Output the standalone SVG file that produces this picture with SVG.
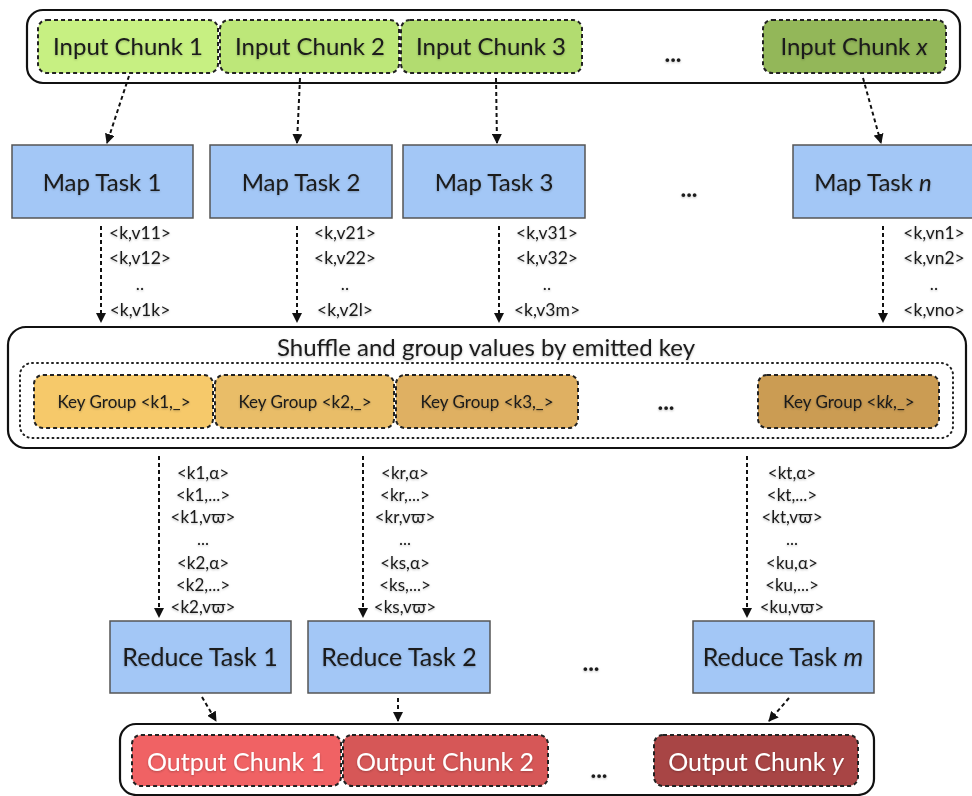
<svg xmlns="http://www.w3.org/2000/svg" width="972" height="796" viewBox="0 0 972 796">
<defs>
<marker id="ah" viewBox="0 0 10 10" refX="9" refY="5" markerWidth="5" markerHeight="5" orient="auto" markerUnits="strokeWidth">
<path d="M0,0 L10,5 L0,10 Z" fill="#111"/>
</marker>
<filter id="sh" x="-10%" y="-30%" width="120%" height="160%">
<feDropShadow dx="0" dy="1" stdDeviation="1" flood-color="#000" flood-opacity="0.25"/>
</filter>
</defs>
<style>
.cont{fill:#fff;stroke:#111;stroke-width:2.2}
.chunk{stroke:#222;stroke-width:2;stroke-dasharray:4 3}
.task{fill:#a3c7f6;stroke:#555;stroke-width:1.5}
.dotted{fill:none;stroke:#222;stroke-width:2;stroke-dasharray:1 4;stroke-linecap:round}
.t{font-family:Lato,"Open Sans","Liberation Sans",sans-serif;fill:#1a1a1a;text-anchor:middle;filter:url(#sh)}
.big{font-size:24px}
.big2{font-size:25px}
.kv{font-size:17.5px}
.kv2{font-size:17px}
.kg{font-size:17px}
.dots{font-size:24px;font-weight:bold}
.w{fill:#fff}
.conn line{stroke:#111;stroke-width:2;stroke-dasharray:4 3;marker-end:url(#ah)}
</style>
<rect width="972" height="796" fill="#fff"/>

<g id="input-container">
<rect class="cont" x="27" y="10" width="933" height="73" rx="16"/>
</g>
<g id="input1"><rect class="chunk" x="38" y="20" width="180" height="53" rx="9" fill="#c7f082"/><text class="t big" x="128" y="55">Input Chunk 1</text></g>
<g id="input2"><rect class="chunk" x="220" y="20" width="179" height="53" rx="9" fill="#bde779"/><text class="t big" x="310" y="55">Input Chunk 2</text></g>
<g id="input3"><rect class="chunk" x="401" y="20" width="181" height="53" rx="9" fill="#b2dc70"/><text class="t big" x="491" y="55">Input Chunk 3</text></g>
<g id="input-dots"><text class="t dots" x="673" y="62">...</text></g>
<g id="inputx"><rect class="chunk" x="763" y="20" width="183" height="53" rx="9" fill="#93b759"/><text class="t big" x="854" y="55">Input Chunk <tspan font-style="italic">x</tspan></text></g>

<g id="map1"><rect class="task" x="12" y="145" width="181" height="73"/><text class="t big" x="102" y="191">Map Task 1</text></g>
<g id="map2"><rect class="task" x="210" y="145" width="182" height="73"/><text class="t big" x="301" y="191">Map Task 2</text></g>
<g id="map3"><rect class="task" x="403" y="145" width="182" height="73"/><text class="t big" x="494" y="191">Map Task 3</text></g>
<g id="map-dots"><text class="t dots" x="689" y="197">...</text></g>
<g id="mapn"><rect class="task" x="793" y="145" width="182" height="73"/><text class="t big" x="873" y="191">Map Task <tspan font-style="italic">n</tspan></text></g>

<g id="map1-kv">
<text class="t kv" x="140" y="239">&lt;k,v11&gt;</text>
<text class="t kv" x="140" y="264">&lt;k,v12&gt;</text>
<text class="t kv" x="140" y="290">..</text>
<text class="t kv" x="140" y="316">&lt;k,v1k&gt;</text>
</g>
<g id="map2-kv">
<text class="t kv" x="345" y="239">&lt;k,v21&gt;</text>
<text class="t kv" x="345" y="264">&lt;k,v22&gt;</text>
<text class="t kv" x="345" y="290">..</text>
<text class="t kv" x="345" y="316">&lt;k,v2l&gt;</text>
</g>
<g id="map3-kv">
<text class="t kv" x="547" y="239">&lt;k,v31&gt;</text>
<text class="t kv" x="547" y="264">&lt;k,v32&gt;</text>
<text class="t kv" x="547" y="290">..</text>
<text class="t kv" x="547" y="316">&lt;k,v3m&gt;</text>
</g>
<g id="mapn-kv">
<text class="t kv" x="934" y="239">&lt;k,vn1&gt;</text>
<text class="t kv" x="934" y="264">&lt;k,vn2&gt;</text>
<text class="t kv" x="934" y="290">..</text>
<text class="t kv" x="934" y="316">&lt;k,vno&gt;</text>
</g>

<g id="shuffle">
<rect class="cont" x="8" y="327" width="958" height="121" rx="18"/>
<text class="t" x="486" y="356" font-size="24">Shuffle and group values by emitted key</text>
<rect class="dotted" x="20" y="363" width="933" height="75" rx="12"/>
</g>
<g id="kg1"><rect class="chunk" x="34" y="375" width="179" height="53" rx="9" fill="#f6c96a"/><text class="t kg" x="124" y="408">Key Group &lt;k1,_&gt;</text></g>
<g id="kg2"><rect class="chunk" x="215" y="375" width="179" height="53" rx="9" fill="#e9bd68"/><text class="t kg" x="305" y="408">Key Group &lt;k2,_&gt;</text></g>
<g id="kg3"><rect class="chunk" x="396" y="375" width="182" height="53" rx="9" fill="#dfb062"/><text class="t kg" x="487" y="408">Key Group &lt;k3,_&gt;</text></g>
<g id="kg-dots"><text class="t dots" x="666" y="410">...</text></g>
<g id="kgk"><rect class="chunk" x="758" y="375" width="181" height="53" rx="9" fill="#cb9c53"/><text class="t kg" x="849" y="408">Key Group &lt;k<tspan font-style="italic">k</tspan>,_&gt;</text></g>

<g id="red1-kv">
<text class="t kv2" x="203" y="479">&lt;k1,α&gt;</text>
<text class="t kv2" x="203" y="501">&lt;k1,...&gt;</text>
<text class="t kv2" x="203" y="523">&lt;k1,vϖ&gt;</text>
<text class="t kv2" x="203" y="545">...</text>
<text class="t kv2" x="203" y="569">&lt;k2,α&gt;</text>
<text class="t kv2" x="203" y="591">&lt;k2,...&gt;</text>
<text class="t kv2" x="203" y="613">&lt;k2,vϖ&gt;</text>
</g>
<g id="red2-kv">
<text class="t kv2" x="405" y="479">&lt;kr,α&gt;</text>
<text class="t kv2" x="405" y="501">&lt;kr,...&gt;</text>
<text class="t kv2" x="405" y="523">&lt;kr,vϖ&gt;</text>
<text class="t kv2" x="405" y="545">...</text>
<text class="t kv2" x="405" y="569">&lt;ks,α&gt;</text>
<text class="t kv2" x="405" y="591">&lt;ks,...&gt;</text>
<text class="t kv2" x="405" y="613">&lt;ks,vϖ&gt;</text>
</g>
<g id="redm-kv">
<text class="t kv2" x="792" y="479">&lt;kt,α&gt;</text>
<text class="t kv2" x="792" y="501">&lt;kt,...&gt;</text>
<text class="t kv2" x="792" y="523">&lt;kt,vϖ&gt;</text>
<text class="t kv2" x="792" y="545">...</text>
<text class="t kv2" x="792" y="569">&lt;ku,α&gt;</text>
<text class="t kv2" x="792" y="591">&lt;ku,...&gt;</text>
<text class="t kv2" x="792" y="613">&lt;ku,vϖ&gt;</text>
</g>

<g id="reduce1"><rect class="task" x="110" y="621" width="181" height="72"/><text class="t big2" x="200" y="666">Reduce Task 1</text></g>
<g id="reduce2"><rect class="task" x="308" y="621" width="182" height="72"/><text class="t big2" x="399" y="666">Reduce Task 2</text></g>
<g id="reduce-dots"><text class="t dots" x="591" y="671">...</text></g>
<g id="reducem"><rect class="task" x="693" y="621" width="181" height="72"/><text class="t big2" x="783" y="666">Reduce Task <tspan font-style="italic">m</tspan></text></g>

<g id="output-container"><rect class="cont" x="120" y="724" width="754" height="71" rx="16"/></g>
<g id="out1"><rect class="chunk" x="132" y="735" width="209" height="51" rx="9" fill="#f06264"/><text class="t big2 w" x="236" y="771">Output Chunk 1</text></g>
<g id="out2"><rect class="chunk" x="343" y="735" width="205" height="51" rx="9" fill="#d65757"/><text class="t big2 w" x="445" y="771">Output Chunk 2</text></g>
<g id="out-dots"><text class="t dots" x="599" y="778">...</text></g>
<g id="outy"><rect class="chunk" x="654" y="735" width="204" height="51" rx="9" fill="#a84545"/><text class="t big2 w" x="756" y="771">Output Chunk <tspan font-style="italic">y</tspan></text></g>

<g id="connectors" class="conn">
<line x1="129" y1="76" x2="107" y2="143"/>
<line x1="300" y1="78" x2="297" y2="143"/>
<line x1="496" y1="78" x2="497" y2="143"/>
<line x1="863" y1="78" x2="881" y2="143"/>
<line x1="101" y1="226" x2="101" y2="322"/>
<line x1="297" y1="226" x2="297" y2="322"/>
<line x1="499" y1="226" x2="499" y2="322"/>
<line x1="883" y1="226" x2="883" y2="322"/>
<line x1="159" y1="456" x2="159" y2="617"/>
<line x1="363" y1="456" x2="363" y2="617"/>
<line x1="747" y1="456" x2="747" y2="617"/>
<line x1="202" y1="697" x2="216" y2="721"/>
<line x1="398" y1="698" x2="398" y2="721"/>
<line x1="789" y1="698" x2="769" y2="721"/>
</g>
</svg>
